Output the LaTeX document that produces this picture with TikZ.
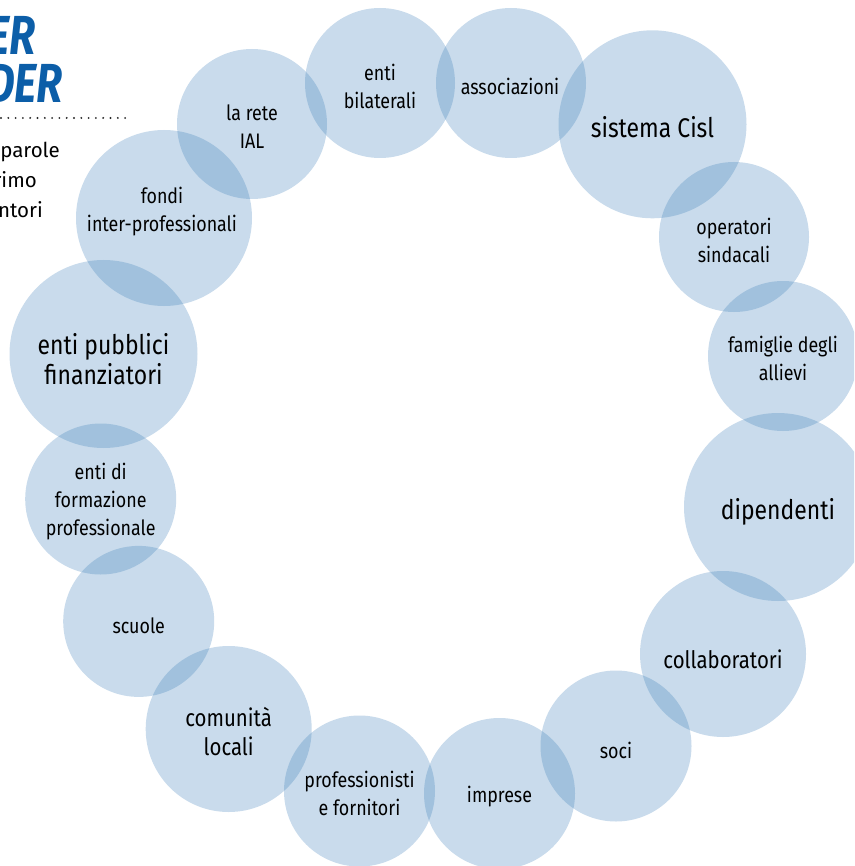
\documentclass[tikz,border=0pt]{standalone}
\usepackage{fontspec}
\setmainfont{Fira Sans}[FakeStretch=0.85]
\newfontfamily\titlefont{Fira Sans}[FakeStretch=0.78]
\newfontfamily\fragfont{Fira Sans}
\definecolor{circ}{RGB}{54,122,183}
\definecolor{ttl}{RGB}{12,94,168}
\definecolor{dotc}{RGB}{40,40,40}
\tikzset{
  blob/.style={circle, fill=circ, fill opacity=0.27, draw=none, inner sep=0pt, minimum size=#1},
  lbls/.style={align=center, inner sep=0pt, text=black, font=\fontsize{21}{28}\selectfont},
  lblm/.style={align=center, inner sep=0pt, text=black, font=\fontsize{24}{29}\selectfont},
  lbll/.style={align=center, inner sep=0pt, text=black, font=\fontsize{27}{30}\selectfont},
  frag/.style={anchor=base east, inner sep=0pt, text=black, font=\fragfont\fontsize{20.5}{30}\selectfont},
  ttlfrag/.style={anchor=base east, inner sep=0pt, text=ttl, font=\titlefont\bfseries\itshape\fontsize{55}{48}\selectfont},
}
\begin{document}
\begin{tikzpicture}[x=1pt,y=-1pt]
\useasboundingbox (0,0) rectangle (854,866);
\clip (0,0) rectangle (854,866);
% circles
\node[blob=150pt] (ial) at (252,124) {};
\node[blob=150pt] (bil) at (380,83) {};
\node[blob=150pt] (ass) at (511,83) {};
\node[blob=188pt] (cisl) at (652.5,124.3) {};
\node[blob=150pt] (ope) at (734,237) {};
\node[blob=150pt] (fam) at (783,356) {};
\node[blob=188pt] (dip) at (778,507) {};
\node[blob=166pt] (col) at (723,654) {};
\node[blob=151pt] (soc) at (616,746) {};
\node[blob=151pt] (imp) at (499.5,793.5) {};
\node[blob=151pt] (pro) at (359.5,791) {};
\node[blob=166pt] (com) at (228.7,729) {};
\node[blob=151pt] (scu) at (138.7,621.4) {};
\node[blob=151pt] (efp) at (100.7,499) {};
\node[blob=188pt] (epf) at (103.5,354) {};
\node[blob=176pt] (fon) at (164,218) {};
% labels
\node[lbls, yshift=-3pt] (tial) at (ial) {la rete\\IAL};
\node[lbls, yshift=-3pt] (tbil) at (bil) {enti\\bilaterali};
\node[lbls, yshift=-3pt, xshift=-1pt] (tass) at (ass) {associazioni};
\node[lbll, yshift=-3pt] (tcisl) at (cisl) {sistema Cisl};
\node[lbls, yshift=-3pt] (tope) at (ope) {operatori\\sindacali};
\node[lbls, yshift=-2pt] (tfam) at (fam) {famiglie degli\\allievi};
\node[lbll, yshift=-5pt] (tdip) at (dip) {dipendenti};
\node[lblm, yshift=-5pt] (tcol) at (col) {collaboratori};
\node[lbls, yshift=-4pt] (tsoc) at (soc) {soci};
\node[lbls, yshift=-3pt] (timp) at (imp) {imprese};
\node[lbls, yshift=-2pt] (tpro) at (pro) {professionisti\\e fornitori};
\node[lblm, yshift=-3pt] (tcom) at (com) {comunità\\locali};
\node[lbls, yshift=-4pt] (tscu) at (scu) {scuole};
\node[lbls, yshift=-3pt] (tefp) at (efp) {enti di\\formazione\\professionale};
\node[lbll, yshift=-5pt] (tepf) at (epf) {enti pubblici\\finanziatori};
\node[lbls, yshift=6pt, xshift=-2pt] (tfon) at (fon) {fondi\\inter-professionali};
% cut-off title and intro text
\node[ttlfrag] (t1) at (36,55) {ER};
\node[ttlfrag] (t2) at (63,103) {DER};
\coordinate (d0) at (1,118);
\coordinate (d1) at (130,118);
\draw[dotc, line width=2.1pt, line cap=round, dash pattern=on 0pt off 7.3pt] (d0) -- (d1);
\node[frag] (f1) at (60,158) {parole};
\node[frag] (f2) at (37,188) {rimo};
\node[frag] (f3) at (43,218) {ntori};
\end{tikzpicture}
\end{document}
